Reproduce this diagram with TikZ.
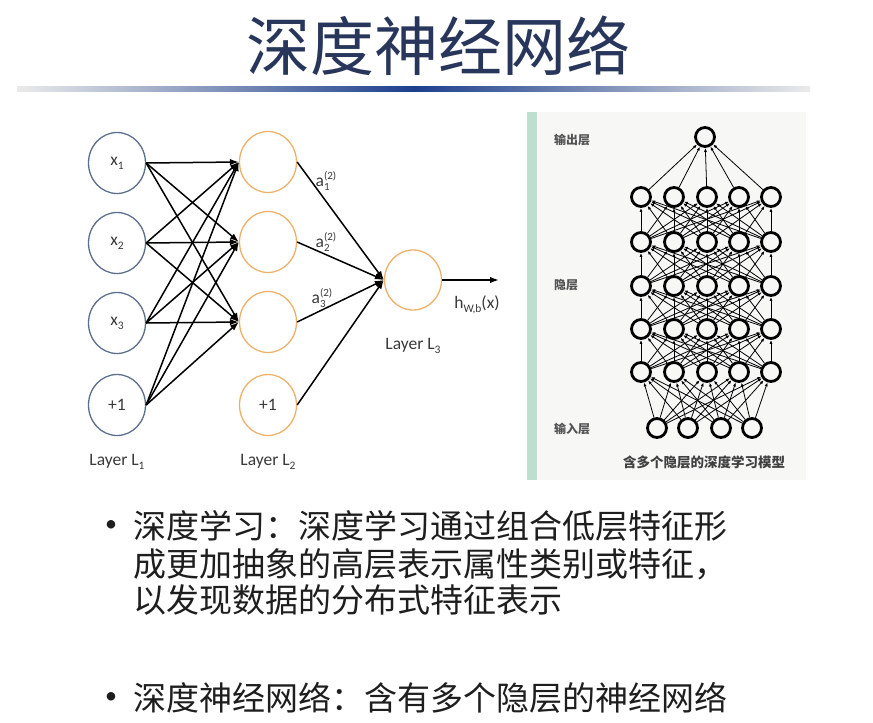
\documentclass[tikz,border=0pt]{standalone}
\usepackage{fontspec}
\setmainfont{Carlito}
\newfontfamily\cjk{Noto Sans CJK SC}
\usetikzlibrary{arrows.meta,shapes.geometric}

\definecolor{titleblue}{HTML}{27365A}
\definecolor{barblue}{HTML}{1D3F8C}
\definecolor{inblue}{HTML}{5B6F8C}
\definecolor{hidorange}{HTML}{EFB16A}
\definecolor{labgray}{HTML}{3A3A3A}
\definecolor{mint}{HTML}{BCDFCF}
\definecolor{panelbg}{HTML}{F7F8F6}
\definecolor{bodytext}{HTML}{1E1E1E}

% small lowered index for node labels
\newcommand\lowidx[1]{\raisebox{-0.45ex}{\fontsize{11.5}{11.5}\selectfont #1}}
% activation label a with stacked superscript (2) and subscript
\newcommand\actlab[1]{a\raisebox{-4.5pt}{\fontsize{11}{11}\selectfont\shortstack[l]{(2)\\#1}}}

\begin{document}
\begin{tikzpicture}[x=1pt,y=-1pt,
  neuronin/.style={ellipse,draw=inblue,line width=1.3pt,minimum width=57pt,minimum height=61pt,inner sep=0pt,
    text=labgray,font=\fontsize{17.5}{19}\selectfont},
  neuronhid/.style={neuronin,draw=hidorange},
  lab/.style={text=labgray,font=\fontsize{17.5}{19}\selectfont,inner sep=0pt},
  wire/.style={line width=1.5pt,-{Latex[length=9pt,width=6.5pt]}},
  unit/.style={circle,draw=black,line width=2.8pt,minimum size=19pt,inner sep=0pt},
  thin/.style={line width=0.8pt,-{Latex[length=4pt,width=3pt]}},
  side/.style={text=black!68,font=\cjk\bfseries\fontsize{12}{14}\selectfont,inner sep=0pt},
  body/.style={anchor=west,text=bodytext,font=\cjk\fontsize{33}{36}\selectfont,inner sep=0pt},
  dot/.style={text=bodytext,font=\fontsize{24}{24}\selectfont,inner sep=0pt}]

\useasboundingbox (0,0) rectangle (873,723);
\fill[white] (0,0) rectangle (873,723);

% heading and its shaded rule
\node[text=titleblue,font=\cjk\fontsize{64}{70}\selectfont,inner sep=0pt] (title) at (438,46) {深度神经网络};
\shade[left color=black!8,right color=black!8,middle color=barblue] (17,86) rectangle (810,91);

% ---------- three-layer network ----------
\node[neuronin] (x1) at (117,163) {x\lowidx{1}};
\node[neuronin] (x2) at (117,243) {x\lowidx{2}};
\node[neuronin] (x3) at (117,323) {x\lowidx{3}};
\node[neuronin] (b1) at (117,405) {+1};

\node[neuronhid] (a1) at (268,162) {};
\node[neuronhid] (a2) at (268,242) {};
\node[neuronhid] (a3) at (268,322) {};
\node[neuronhid] (b2) at (268,405) {+1};

\node[neuronhid,minimum height=60pt] (o) at (413,280) {};
\coordinate (out) at (499,280);

\foreach \s in {x1,x2,x3,b1}
  \foreach \t in {a1,a2,a3}
    \draw[wire] (\s.east) -- (\t.west);
\foreach \s in {a1,a2,a3,b2}
  \draw[wire] (\s.east) -- (o.west);
\draw[wire] (o.east) -- (out);

\node[lab] (la1) at (326,181) {\actlab{1}};
\node[lab] (la2) at (326,242) {\actlab{2}};
\node[lab] (la3) at (322,298) {\actlab{3}};
\node[lab] (hx) at (477,305) {h\lowidx{W,b}(x)};

\node[lab] (L1) at (117,462) {Layer L\lowidx{1}};
\node[lab] (L2) at (268,462) {Layer L\lowidx{2}};
\node[lab] (L3) at (413,346) {Layer L\lowidx{3}};

% ---------- deep network panel ----------
\fill[panelbg] (538,112) rectangle (806,480);
\fill[mint] (527,112) rectangle (537,480);

\node[unit] (y) at (705,137) {};
\foreach \r/\yy in {1/197,2/242,3/286,4/329,5/372}
  \foreach \c/\xx in {1/641,2/674,3/707,4/739,5/771}
    \node[unit] (h\r\c) at (\xx,\yy) {};
\foreach \c/\xx in {1/657,2/688,3/721,4/752}
  \node[unit] (i\c) at (\xx,428) {};

\foreach \c in {1,...,4}
  \foreach \d in {1,...,5}
    \draw[thin] (i\c) -- (h5\d);
\foreach \r/\q in {5/4,4/3,3/2,2/1}
  \foreach \c in {1,...,5}
    \foreach \d in {1,...,5}
      \draw[thin] (h\r\c) -- (h\q\d);
\foreach \c in {1,...,5}
  \draw[thin] (h1\c) -- (y);

\node[side] (tout) at (572,140) {输出层};
\node[side] (thid) at (566,285) {隐层};
\node[side] (tin) at (572,429) {输入层};
\node[side,text=black!75,font=\cjk\bfseries\fontsize{13.5}{15}\selectfont] (cap) at (704,462) {含多个隐层的深度学习模型};

% ---------- bullet text ----------
\node[dot] (d1) at (111,526) {•};
\node[body] (t1) at (133,526) {深度学习：深度学习通过组合低层特征形};
\node[body] (t2) at (133,564) {成更加抽象的高层表示属性类别或特征，};
\node[body] (t3) at (133,600) {以发现数据的分布式特征表示};
\node[dot] (d2) at (111,698) {•};
\node[body] (t4) at (133,698) {深度神经网络：含有多个隐层的神经网络};
\end{tikzpicture}
\end{document}
